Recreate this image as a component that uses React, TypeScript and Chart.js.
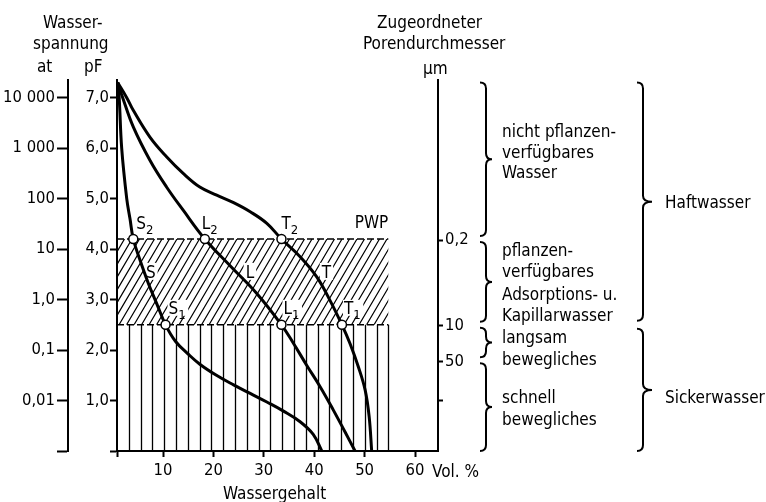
import React, { useEffect, useRef } from 'react';
import { Chart, registerables } from 'chart.js';

Chart.register(...registerables);

const FONT = '"DejaVu Sans Condensed", "DejaVu Sans", sans-serif';
const FS = 16.5;
const TS = 17;

// axis ranges: water content (Vol.%) and pF
const X_MIN = 0.87;
const X_MAX = 64.56;
const PF_MIN = 0;
const PF_MAX = 7.35;

const xTicks = [10, 20, 30, 40, 50, 60];
const pfTicks = [0, 1, 2, 3, 4, 5, 6, 7];
const pfLabels = ['', '1,0', '2,0', '3,0', '4,0', '5,0', '6,0', '7,0'];
const atValues = [0.01, 0.1, 1, 10, 100, 1000, 10000];
const atLabels = ['0,01', '0,1', '1,0', '10', '100', '1 000', '10 000'];
const poreValues = [0.2, 10, 50, 300];
const poreLabels = ['0,2', '10', '50', ''];

// retention curves (Vol.%, pF)
const sandX = [1.0, 1.3, 1.8, 2.8, 3.45, 4.1, 5.45, 7.1, 8.75, 10.5, 12.5, 15.0, 17.3, 20.6, 24.0, 27.3, 30.6, 33.9, 37.2, 39.8, 41.5];
const sandPF = [7.3, 7.0, 6.0, 5.0, 4.6, 4.2, 3.78, 3.32, 2.92, 2.5, 2.17, 1.92, 1.72, 1.5, 1.31, 1.14, 0.97, 0.79, 0.58, 0.33, 0.0];
const loamX = [1.0, 2.0, 4.1, 7.4, 10.7, 14.0, 18.3, 23.5, 28.6, 33.5, 35.9, 38.5, 41.2, 43.8, 46.1, 48.1];
const loamPF = [7.3, 7.0, 6.42, 5.76, 5.23, 4.77, 4.2, 3.65, 3.12, 2.5, 2.13, 1.7, 1.27, 0.81, 0.38, 0.0];
const clayX = [1.0, 2.8, 4.1, 7.4, 10.7, 14.0, 17.3, 20.65, 24.0, 27.3, 30.6, 33.5, 37.2, 40.5, 43.1, 45.5, 47.1, 48.75, 50.1, 50.9, 51.4];
const clayPF = [7.3, 7.0, 6.75, 6.22, 5.83, 5.5, 5.23, 5.07, 4.92, 4.74, 4.51, 4.2, 3.85, 3.45, 2.99, 2.5, 2.13, 1.67, 1.21, 0.68, 0.0];

// characteristic levels
const PWP = 4.2;
const FK = 2.5;
const SLOW = 1.8;
const HATCH_END = 54.7;
const TOP_PF = 7.3;

// marked points
const pointNames = ['S', 'L', 'T', 'S', 'L', 'T'];
const pointSubs = ['2', '2', '2', '1', '1', '1'];
const pointX = [4.1, 18.3, 33.5, 10.5, 33.5, 45.5];
const pointPF = [4.2, 4.2, 4.2, 2.5, 2.5, 2.5];

const curveNames = ['S', 'L', 'T'];
const curveNameX = [6.6, 26.4, 41.5];
const curveNamePF = [3.43, 3.43, 3.43];

const toXY = (xs: number[], ys: number[]) => xs.map((x, i) => ({ x, y: ys[i] }));

function brace(ctx: CanvasRenderingContext2D, xs: number, yTop: number, yBot: number, curl: number, tip: number) {
  const ym = (yTop + yBot) / 2;
  const r = Math.min(6, (yBot - yTop) / 4);
  ctx.beginPath();
  ctx.moveTo(xs - curl, yTop);
  ctx.quadraticCurveTo(xs, yTop, xs, yTop + r);
  ctx.lineTo(xs, ym - r);
  ctx.quadraticCurveTo(xs, ym, xs + tip, ym);
  ctx.quadraticCurveTo(xs, ym, xs, ym + r);
  ctx.lineTo(xs, yBot - r);
  ctx.quadraticCurveTo(xs, yBot, xs - curl, yBot);
  ctx.stroke();
}

const labelOffsets = [[3, -10], [-3, -10], [0, -10], [3, -11], [2, -11], [2, -11]];

const overlay = {
  id: 'overlay',
  beforeDatasetsDraw(chart: any) {
    const { ctx, scales } = chart;
    const x = scales.x;
    const y = scales.y;
    const x0 = x.getPixelForValue(X_MIN);
    const x1 = x.getPixelForValue(HATCH_END);
    const yP = y.getPixelForValue(PWP);
    const yF = y.getPixelForValue(FK);
    const y0 = y.getPixelForValue(0);
    ctx.save();
    ctx.strokeStyle = '#000';
    // diagonal hatch
    ctx.save();
    ctx.beginPath();
    ctx.rect(x0, yP, x1 - x0, yF - yP);
    ctx.clip();
    ctx.lineWidth = 1.2;
    const run = (yF - yP) / 1.7;
    ctx.beginPath();
    for (let k = x0 - run; k < x1 + 2; k += 7.5) {
      ctx.moveTo(k, yF);
      ctx.lineTo(k + run, yP);
    }
    ctx.stroke();
    ctx.restore();
    // vertical hatch
    ctx.lineWidth = 1.3;
    ctx.beginPath();
    const n = 23;
    for (let i = 1; i <= n; i++) {
      const xi = Math.round(x0 + (i * (x1 - x0)) / n) + 0.5;
      ctx.moveTo(xi, yF);
      ctx.lineTo(xi, y0);
    }
    ctx.stroke();
    // dashed levels
    ctx.setLineDash([7, 3]);
    ctx.lineWidth = 1.6;
    ctx.beginPath();
    ctx.moveTo(x0, yP);
    ctx.lineTo(x1, yP);
    ctx.moveTo(x0, yF);
    ctx.lineTo(x1, yF);
    ctx.stroke();
    ctx.setLineDash([]);
    // clear behind labels
    ctx.fillStyle = '#fff';
    ctx.font = `${TS}px ${FONT}`;
    pointNames.forEach((nm, i) => {
      const px = x.getPixelForValue(pointX[i]) + labelOffsets[i][0];
      const py = y.getPixelForValue(pointPF[i]) + labelOffsets[i][1];
      const w = ctx.measureText(nm).width + 9;
      ctx.fillRect(px - 1, py - 14, w + 2, 16);
    });
    curveNames.forEach((nm, i) => {
      const px = x.getPixelForValue(curveNameX[i]);
      const py = y.getPixelForValue(curveNamePF[i]);
      const w = ctx.measureText(nm).width;
      ctx.fillRect(px - 2, py - 15, w + 4, 17);
    });
    ctx.restore();
  },
  afterDraw(chart: any) {
    const { ctx, scales } = chart;
    const x = scales.x;
    const y = scales.y;
    ctx.save();
    ctx.fillStyle = '#000';
    ctx.strokeStyle = '#000';
    ctx.textBaseline = 'alphabetic';
    const main = `${TS}px ${FONT}`;
    const sub = `13px ${FONT}`;
    // point labels with subscripts
    pointNames.forEach((nm, i) => {
      const px = x.getPixelForValue(pointX[i]) + labelOffsets[i][0];
      const py = y.getPixelForValue(pointPF[i]) + labelOffsets[i][1];
      ctx.font = main;
      ctx.fillText(nm, px, py);
      const w = ctx.measureText(nm).width;
      ctx.font = sub;
      ctx.fillText(pointSubs[i], px + w, py + 5);
    });
    ctx.font = main;
    curveNames.forEach((nm, i) => {
      ctx.fillText(nm, x.getPixelForValue(curveNameX[i]), y.getPixelForValue(curveNamePF[i]));
    });
    ctx.textAlign = 'right';
    ctx.fillText('PWP', x.getPixelForValue(HATCH_END), y.getPixelForValue(PWP) - 11);
    ctx.textAlign = 'left';

    // headers
    ctx.fillText('Wasser-', 43, 28);
    ctx.fillText('spannung', 33, 49);
    ctx.fillText('at', 37, 72);
    ctx.fillText('pF', 84, 72);
    ctx.fillText('Zugeordneter', 377, 28);
    ctx.fillText('Porendurchmesser', 363, 49);
    ctx.fillText('\u00B5m', 423, 74);
    ctx.fillText('Vol. %', 432, 477);
    ctx.fillText('Wassergehalt', 223, 499);

    // right side descriptions
    const lines: [string, number, number][] = [
      ['nicht pflanzen-', 502, 137],
      ['verfügbares', 502, 158],
      ['Wasser', 502, 178],
      ['pflanzen-', 502, 256],
      ['verfügbares', 502, 277],
      ['Adsorptions- u.', 502, 300],
      ['Kapillarwasser', 502, 321],
      ['langsam', 502, 343],
      ['bewegliches', 502, 365],
      ['schnell', 502, 403],
      ['bewegliches', 502, 425],
      ['Haftwasser', 665, 208],
      ['Sickerwasser', 665, 403],
    ];
    lines.forEach(([t, lx, ly]) => ctx.fillText(t, lx, ly));

    // braces
    ctx.lineWidth = 2;
    const levels = [TOP_PF, PWP, FK, SLOW, 0];
    for (let i = 0; i < levels.length - 1; i++) {
      const a = y.getPixelForValue(levels[i]) + (i === 0 ? 0 : 3);
      const b = y.getPixelForValue(levels[i + 1]) - (i === levels.length - 2 ? 0 : 3);
      brace(ctx, 486, a, b, 6, 6);
    }
    const big = [TOP_PF, FK, 0];
    for (let i = 0; i < big.length - 1; i++) {
      const a = y.getPixelForValue(big[i]) + (i === 0 ? 0 : 4);
      const b = y.getPixelForValue(big[i + 1]) - (i === big.length - 2 ? 0 : 4);
      brace(ctx, 643, a, b, 6, 9);
    }
    ctx.restore();
  },
};

const black = '#000';
const tickFont = { family: FONT, size: FS };

export default function App() {
  const ref = useRef<HTMLCanvasElement | null>(null);
  useEffect(() => {
    if (!ref.current) return;
    const curve = (xs: number[], ys: number[]) => ({
      type: 'line' as const,
      data: toXY(xs, ys),
      borderColor: black,
      borderWidth: 3,
      pointRadius: 0,
      fill: false,
      tension: 0.4,
      order: 1,
    });
    const chart = new Chart(ref.current, {
      type: 'line',
      data: {
        datasets: [
          {
            type: 'scatter',
            data: toXY(pointX, pointPF),
            pointRadius: 4.5,
            pointBackgroundColor: '#fff',
            pointBorderColor: black,
            pointBorderWidth: 1.5,
            showLine: false,
            order: 0,
          } as any,
          curve(sandX, sandPF),
          curve(loamX, loamPF),
          curve(clayX, clayPF),
        ],
      },
      options: {
        responsive: false,
        animation: false,
        layout: { padding: { top: 80, left: 0, right: 0, bottom: 0 } },
        plugins: { legend: { display: false }, tooltip: { enabled: false } },
        scales: {
          x: {
            type: 'linear',
            position: 'bottom',
            min: X_MIN,
            max: X_MAX,
            afterBuildTicks: (s: any) => {
              s.ticks = [X_MIN, ...xTicks].map((v) => ({ value: v }));
            },
            afterFit: (s: any) => {
              s.height = 51;
            },
            ticks: {
              autoSkip: false,
              maxRotation: 0,
              padding: 4,
              color: black,
              font: tickFont,
              callback: (v: any) => (xTicks.includes(v) ? String(v) : ''),
            },
            grid: { drawOnChartArea: false, drawTicks: true, tickLength: 6, tickWidth: 2, color: black },
            border: { display: true, width: 2, color: black },
          },
          y: {
            type: 'linear',
            position: 'left',
            weight: 0,
            min: PF_MIN,
            max: PF_MAX,
            afterBuildTicks: (s: any) => {
              s.ticks = pfTicks.map((v) => ({ value: v }));
            },
            afterFit: (s: any) => {
              s.width = 49;
            },
            ticks: {
              autoSkip: false,
              padding: 1,
              color: black,
              font: tickFont,
              callback: (_v: any, i: number) => pfLabels[i],
            },
            grid: { drawOnChartArea: false, drawTicks: true, tickLength: 7, tickWidth: 2, color: black },
            border: { display: true, width: 2, color: black },
          },
          yAt: {
            type: 'linear',
            position: 'left',
            weight: 1,
            min: PF_MIN,
            max: PF_MAX,
            afterBuildTicks: (s: any) => {
              s.ticks = [0, ...atValues.map((v) => Math.log10(v) + 3)].map((v) => ({ value: v }));
            },
            afterFit: (s: any) => {
              s.width = 68;
            },
            ticks: {
              autoSkip: false,
              padding: 2,
              color: black,
              font: tickFont,
              callback: (_v: any, i: number) => (i === 0 ? '' : atLabels[i - 1]),
            },
            grid: { drawOnChartArea: false, drawTicks: true, tickLength: 11, tickWidth: 2, color: black },
            border: { display: true, width: 2, color: black },
          },
          yMu: {
            type: 'linear',
            position: 'right',
            min: PF_MIN,
            max: PF_MAX,
            afterBuildTicks: (s: any) => {
              s.ticks = poreValues.map((d) => ({ value: Math.log10(3000 / d) }));
            },
            afterFit: (s: any) => {
              s.width = 328;
            },
            ticks: {
              autoSkip: false,
              padding: 2,
              color: black,
              font: tickFont,
              callback: (_v: any, i: number) => poreLabels[i],
            },
            grid: { drawOnChartArea: false, drawTicks: true, tickLength: 5, tickWidth: 2, color: black },
            border: { display: true, width: 2, color: black },
          },
        },
      } as any,
      plugins: [overlay],
    });
    return () => chart.destroy();
  }, []);
  return (
    <div style={{ position: 'fixed', left: 0, top: 0, width: 766, height: 502, background: '#fff' }}>
      <canvas ref={ref} width={766} height={502} style={{ width: 766, height: 502, display: 'block' }} />
    </div>
  );
}
